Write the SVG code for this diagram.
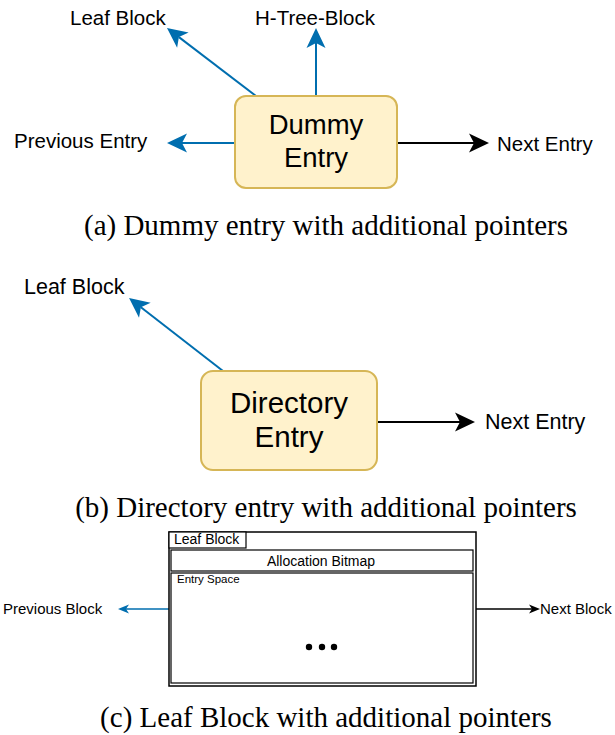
<svg xmlns="http://www.w3.org/2000/svg" width="615" height="735" viewBox="0 0 615 735">
<style>
.lbl{font-family:"Liberation Sans",Arial,sans-serif;fill:#000}
.cap{font-family:"Liberation Serif","Times New Roman",serif;font-size:29px;fill:#000}
.entry{fill:#fff2cc;stroke:#d6b656;stroke-width:2}
.blue{stroke:#006eaf;stroke-width:2;fill:none}
.black{stroke:#000;stroke-width:2;fill:none}
.blue-s{stroke:#006eaf;stroke-width:1.5;fill:none}
.black-s{stroke:#000;stroke-width:1.5;fill:none}
</style>
<defs>
<marker id="ab" markerUnits="userSpaceOnUse" markerWidth="20" markerHeight="19" refX="5" refY="9.5" orient="auto" overflow="visible"><path d="M0,0 L20,9.5 L0,19 L5,9.5 Z" fill="#006eaf"/></marker>
<marker id="ak" markerUnits="userSpaceOnUse" markerWidth="20" markerHeight="19" refX="5" refY="9.5" orient="auto" overflow="visible"><path d="M0,0 L20,9.5 L0,19 L5,9.5 Z" fill="#000"/></marker>
<marker id="sb" markerUnits="userSpaceOnUse" markerWidth="11" markerHeight="9" refX="3" refY="4.5" orient="auto" overflow="visible"><path d="M0,0 L11,4.5 L0,9 L3,4.5 Z" fill="#006eaf"/></marker>
<marker id="sk" markerUnits="userSpaceOnUse" markerWidth="11" markerHeight="9" refX="3" refY="4.5" orient="auto" overflow="visible"><path d="M0,0 L11,4.5 L0,9 L3,4.5 Z" fill="#000"/></marker>
</defs>
<rect width="615" height="735" fill="#fff"/>

<g id="connectors">
<line class="blue" x1="256" y1="96" x2="178.9" y2="37.1" marker-end="url(#ab)"/>
<line class="blue" x1="316" y1="96" x2="316" y2="43" marker-end="url(#ab)"/>
<line class="blue" x1="235" y1="143" x2="182" y2="143" marker-end="url(#ab)"/>
<line class="black" x1="397" y1="143" x2="474" y2="143" marker-end="url(#ak)"/>
<line class="blue" x1="223" y1="371" x2="140.9" y2="307.2" marker-end="url(#ab)"/>
<line class="black" x1="377" y1="422" x2="460" y2="422" marker-end="url(#ak)"/>
<line class="blue-s" x1="169" y1="609" x2="126" y2="609" marker-end="url(#sb)"/>
<line class="black-s" x1="476" y1="609" x2="532" y2="609" marker-end="url(#sk)"/>
</g>

<g id="dummy-entry">
<rect class="entry" x="235" y="96" width="162" height="92" rx="11"/>
<text class="lbl" x="316" y="134" font-size="27.5" text-anchor="middle">Dummy</text>
<text class="lbl" x="316" y="167" font-size="27.5" text-anchor="middle">Entry</text>
</g>
<g id="a-leaf-block"><text class="lbl" x="70" y="25" font-size="20.5">Leaf Block</text></g>
<g id="a-htree-block"><text class="lbl" x="255" y="25" font-size="20.5">H-Tree-Block</text></g>
<g id="a-previous-entry"><text class="lbl" x="14" y="148" font-size="20.5">Previous Entry</text></g>
<g id="a-next-entry"><text class="lbl" x="497" y="151" font-size="20.5">Next Entry</text></g>
<text class="cap" x="326" y="235" text-anchor="middle">(a) Dummy entry with additional pointers</text>

<g id="directory-entry">
<rect class="entry" x="201" y="371" width="176" height="99" rx="12"/>
<text class="lbl" x="289" y="413" font-size="29.5" text-anchor="middle">Directory</text>
<text class="lbl" x="289" y="447" font-size="29.5" text-anchor="middle">Entry</text>
</g>
<g id="b-leaf-block"><text class="lbl" x="24" y="294" font-size="21.5">Leaf Block</text></g>
<g id="b-next-entry"><text class="lbl" x="485" y="429" font-size="21.5">Next Entry</text></g>
<text class="cap" x="326" y="517" text-anchor="middle">(b) Directory entry with additional pointers</text>

<g id="leaf-block">
<rect x="169" y="532" width="307" height="154" fill="#fff" stroke="#000" stroke-width="1.5"/>
<rect x="169" y="532" width="77" height="16" fill="#fff" stroke="#000" stroke-width="1.2"/>
<text class="lbl" x="174" y="544" font-size="14">Leaf Block</text>
<g id="allocation-bitmap">
<rect x="171" y="550" width="302" height="21" fill="#fff" stroke="#000" stroke-width="1.2"/>
<text class="lbl" x="321" y="566" font-size="14" text-anchor="middle">Allocation Bitmap</text>
</g>
<g id="entry-space">
<rect x="171" y="573" width="302" height="110" fill="#fff" stroke="#000" stroke-width="1.2"/>
<text class="lbl" x="177" y="583" font-size="11.5">Entry Space</text>
<circle cx="309" cy="647" r="3.2" fill="#000"/>
<circle cx="322" cy="647" r="3.2" fill="#000"/>
<circle cx="334" cy="647" r="3.2" fill="#000"/>
</g>
</g>
<g id="c-previous-block"><text class="lbl" x="3" y="614" font-size="15">Previous Block</text></g>
<g id="c-next-block"><text class="lbl" x="540" y="614" font-size="15">Next Block</text></g>
<text class="cap" x="326" y="727" text-anchor="middle">(c) Leaf Block with additional pointers</text>
</svg>
